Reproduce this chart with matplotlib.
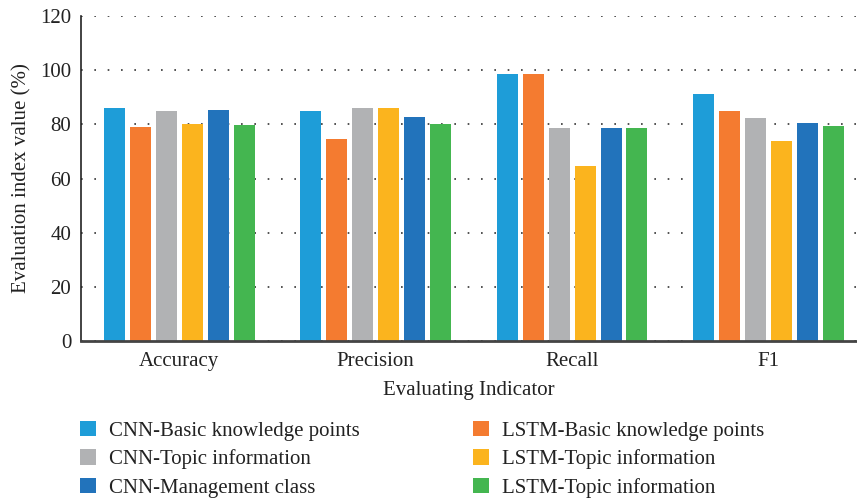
import numpy as np
import matplotlib.pyplot as plt

plt.rcParams['font.family'] = ['Liberation Serif', 'DejaVu Serif']

# data
indicators = ["Accuracy", "Precision", "Recall", "F1"]
series_names = [
    "CNN-Basic knowledge points",
    "LSTM-Basic knowledge points",
    "CNN-Topic information",
    "LSTM-Topic information",
    "CNN-Management class",
    "LSTM-Topic information",
]
cnn_basic = [86.1, 85.0, 98.6, 91.2]
lstm_basic = [79.1, 74.6, 98.6, 85.0]
cnn_topic = [85.0, 86.1, 78.7, 82.4]
lstm_topic = [80.2, 86.1, 64.7, 73.9]
cnn_manage = [85.3, 82.8, 78.7, 80.5]
lstm_topic2 = [79.8, 80.2, 78.7, 79.4]

values = [cnn_basic, lstm_basic, cnn_topic, lstm_topic, cnn_manage, lstm_topic2]
colors = ["#1E9DD8", "#F47B30", "#B1B2B4", "#FBB41E", "#2273BB", "#44B650"]

fig = plt.figure(figsize=(8.57, 4.98), dpi=100)
ax = fig.add_axes([0.0945, 0.315, 0.9055, 0.653])

x = np.arange(len(indicators))
pitch = 0.132
width = 0.107
handles = []
for i, (vals, c, name) in enumerate(zip(values, colors, series_names)):
    h = ax.bar(x + (i - 2.5) * pitch, vals, width, color=c, label=name, zorder=2)
    handles.append(h)

ax.set_ylim(0, 120)
ax.set_xlim(-0.5, 3.45)
ax.set_yticks(range(0, 121, 20))
ax.set_xticks(x)
ax.set_xticklabels(indicators)
ax.tick_params(axis='both', length=0, labelsize=15, colors='#222222')
ax.tick_params(axis='y', pad=7)
ax.tick_params(axis='x', pad=8)
ax.yaxis.grid(True, linestyle=(0, (1, 7)), color='#333333', linewidth=1.2, zorder=0)
ax.set_axisbelow(True)

for s in ['top', 'right']:
    ax.spines[s].set_visible(False)
ax.spines['left'].set_color('#222222')
ax.spines['left'].set_linewidth(1.2)
ax.spines['bottom'].set_color('#444444')
ax.spines['bottom'].set_linewidth(2)

ax.set_ylabel("Evaluation index value (%)", fontsize=15, color='#222222', labelpad=6)
ax.set_xlabel("Evaluating Indicator", fontsize=15, color='#222222', labelpad=7)

order = [0, 2, 4, 1, 3, 5]
fig.legend([handles[k] for k in order], [series_names[k] for k in order],
           ncol=2, frameon=False, loc='upper left', bbox_to_anchor=(0.0933, 0.155),
           borderpad=0, borderaxespad=0,
           fontsize=15, handlelength=0.77, handleheight=0.77, handletextpad=0.62,
           columnspacing=5.45, labelspacing=0.41, labelcolor='#222222')

fig.savefig("out.png", dpi=100)
